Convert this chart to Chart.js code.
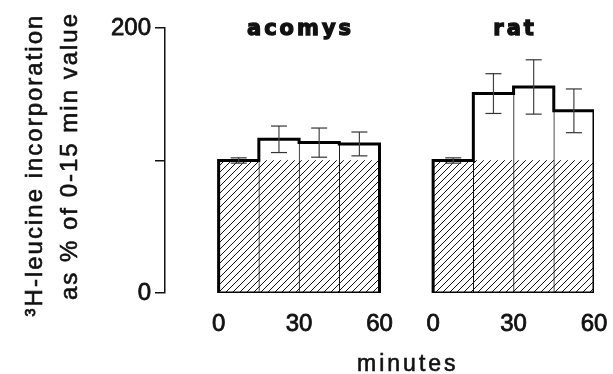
<!DOCTYPE html>
<html>
<head>
<meta charset="utf-8">
<script src="https://cdn.jsdelivr.net/npm/chart.js@4.4.1/dist/chart.umd.min.js"></script>
<style>
  html, body { margin: 0; padding: 0; background: #ffffff; }
  #wrap { width: 613px; height: 374px; }
</style>
</head>
<body>
<div id="wrap"><canvas id="c" width="613" height="374"></canvas></div>
<script>
// ---------------- data ----------------
const panelNames = ['acomys', 'rat'];
const binStarts = [0, 15, 30, 45];          // minutes, start of each 15-min bin
const binWidth = 15;
const acomysValues = [100, 116, 113.5, 112.5];
const acomysErrors = [2, 10, 11, 9];
const ratValues = [100, 150.5, 155.5, 137.5];
const ratErrors = [2, 15, 20.5, 16.5];
const baselineValue = 100;                   // 0-15 min value (hatched part)
const xTickValues = [0, 30, 60];
const xTickLabels = ['0', '30', '60'];
const yTickValues = [0, 100, 200];
const yTickLabels = ['0', '', '200'];
const xAxisTitle = 'minutes';
const yTitleLines = ['\u00B3H-leucine incorporation', 'as % of 0-15 min value'];

// panel placement on the shared linear x scale (layout only)
const panelOffsets = [0, 80];
const panelValues = [acomysValues, ratValues];
const panelErrors = [acomysErrors, ratErrors];

// ---------------- hatch pattern ----------------
function makeHatch() {
  const s = 7;
  const pc = document.createElement('canvas');
  pc.width = s; pc.height = s;
  const p = pc.getContext('2d');
  p.strokeStyle = '#111';
  p.lineWidth = 1;
  p.beginPath();
  p.moveTo(0, s); p.lineTo(s, 0);
  p.moveTo(-1, 1); p.lineTo(1, -1);
  p.moveTo(s - 1, s + 1); p.lineTo(s + 1, s - 1);
  p.stroke();
  return p.createPattern(pc, 'repeat');
}
const hatch = makeHatch();

// ---------------- datasets ----------------
const datasets = [];
panelValues.forEach((vals, pi) => {
  const off = panelOffsets[pi];
  const centers = binStarts.map(b => off + b + binWidth / 2);
  datasets.push({
    type: 'bar', grouped: false, order: 6,
    data: centers.map((c, i) => ({ x: c, y: [0, vals[i]] })),
    backgroundColor: '#ffffff', borderColor: '#111',
    borderWidth: { left: 1, right: 0, top: 0, bottom: 0 }, borderSkipped: false,
    categoryPercentage: 1, barPercentage: 1
  });
  datasets.push({
    type: 'bar', grouped: false, order: 5,
    data: centers.map((c, i) => ({ x: c, y: [0, Math.min(baselineValue, vals[i])] })),
    backgroundColor: hatch, borderWidth: 0,
    categoryPercentage: 1, barPercentage: 1
  });
  const outline = [{ x: off + binStarts[0], y: 0 }];
  binStarts.forEach((b, i) => outline.push({ x: off + b, y: vals[i] }));
  outline.push({ x: off + binStarts[binStarts.length - 1] + binWidth, y: 0 });
  outline.push({ x: off + binStarts[0], y: 0 });
  datasets.push({
    type: 'line', order: 3, data: outline, stepped: 'before',
    borderColor: '#000', borderWidth: 3, pointRadius: 0, fill: false,
    borderJoinStyle: 'miter', borderCapStyle: 'square', tension: 0
  });
  const stems = [];
  centers.forEach((c, i) => {
    stems.push({ x: c, y: vals[i] - panelErrors[pi][i] });
    stems.push({ x: c, y: vals[i] + panelErrors[pi][i] });
    stems.push({ x: c, y: null });
  });
  datasets.push({
    type: 'line', order: 2, data: stems, spanGaps: false,
    borderColor: '#444', borderWidth: 1.2, pointRadius: 0, fill: false
  });
  const caps = [];
  centers.forEach((c, i) => {
    caps.push({ x: c, y: vals[i] - panelErrors[pi][i] });
    caps.push({ x: c, y: vals[i] + panelErrors[pi][i] });
  });
  datasets.push({
    type: 'scatter', order: 1, data: caps, showLine: false,
    pointStyle: 'line', pointRadius: 8, borderColor: '#333', borderWidth: 1.2,
    backgroundColor: '#333'
  });
});

// ---------------- text plugin ----------------
const textPlugin = {
  id: 'texts',
  afterDraw(chart) {
    const { ctx, scales } = chart;
    const x = scales.x;
    ctx.save();
    ctx.fillStyle = '#111';
    ctx.strokeStyle = '#111';
    ctx.textAlign = 'center';
    ctx.textBaseline = 'alphabetic';
    ctx.font = 'bold 21px "DejaVu Sans"';
    ctx.letterSpacing = '3px';
    ctx.lineWidth = 1.3;
    panelNames.forEach((n, i) => {
      const px = x.getPixelForValue(panelOffsets[i] + 30) + 1.5;
      ctx.fillText(n, px, 35);
      ctx.strokeText(n, px, 35);
    });
    ctx.font = '23px "Liberation Sans"';
    ctx.letterSpacing = '3px';
    ctx.lineWidth = 0.6;
    const mx = x.getPixelForValue((panelOffsets[0] + 60 + panelOffsets[1]) / 2) + 1.5;
    ctx.fillText(xAxisTitle, mx, 371);
    ctx.strokeText(xAxisTitle, mx, 371);
    ctx.font = '24px "Liberation Sans"';
    ctx.letterSpacing = '2px';
    const pos = [[42, 166], [77, 157]];
    yTitleLines.forEach((t, i) => {
      ctx.save();
      ctx.translate(pos[i][0], pos[i][1]);
      ctx.rotate(-Math.PI / 2);
      ctx.fillText(t, 1, 0);
      ctx.strokeText(t, 1, 0);
      ctx.restore();
    });
    ctx.restore();
  }
};

// ---------------- chart ----------------
new Chart(document.getElementById('c'), {
  data: { datasets },
  plugins: [textPlugin],
  options: {
    responsive: false,
    animation: false,
    devicePixelRatio: 1,
    layout: { padding: { top: 28, right: 19, left: 0, bottom: 0 } },
    plugins: { legend: { display: false }, tooltip: { enabled: false } },
    scales: {
      x: {
        type: 'linear', min: -20, max: 140, offset: false,
        afterBuildTicks: (s) => {
          const t = [];
          panelOffsets.forEach(o => xTickValues.forEach(v => t.push({ value: o + v })));
          s.ticks = t;
        },
        afterFit: (s) => { s.height = 81; s.paddingLeft = 0; s.paddingRight = 0; },
        grid: { display: false, drawTicks: false, offset: false },
        border: { display: false },
        ticks: {
          padding: 17, color: '#111', maxRotation: 0, autoSkip: false,
          textStrokeColor: '#111', textStrokeWidth: 0.8,
          font: { family: '"Liberation Sans"', size: 24 },
          callback: (v) => {
            const local = panelOffsets.reduce((acc, o) => (v >= o ? v - o : acc), v);
            const k = xTickValues.indexOf(local);
            return k >= 0 ? xTickLabels[k] : '';
          }
        }
      },
      y: {
        type: 'linear', min: 0, max: 200,
        afterBuildTicks: (s) => { s.ticks = yTickValues.map(v => ({ value: v })); },
        afterFit: (s) => { s.width = 165; s.paddingTop = 0; s.paddingBottom = 0; },
        grid: { display: true, drawOnChartArea: false, drawTicks: true, tickLength: 10, color: '#111', lineWidth: 1.5 },
        border: { display: true, color: '#111', width: 1.5 },
        ticks: {
          padding: 4, color: '#111', autoSkip: false,
          textStrokeColor: '#111', textStrokeWidth: 0.8,
          font: { family: '"Liberation Sans"', size: 24 },
          callback: (v) => { const k = yTickValues.indexOf(v); return k >= 0 ? yTickLabels[k] : ''; }
        }
      }
    }
  }
});
</script>
</body>
</html>
